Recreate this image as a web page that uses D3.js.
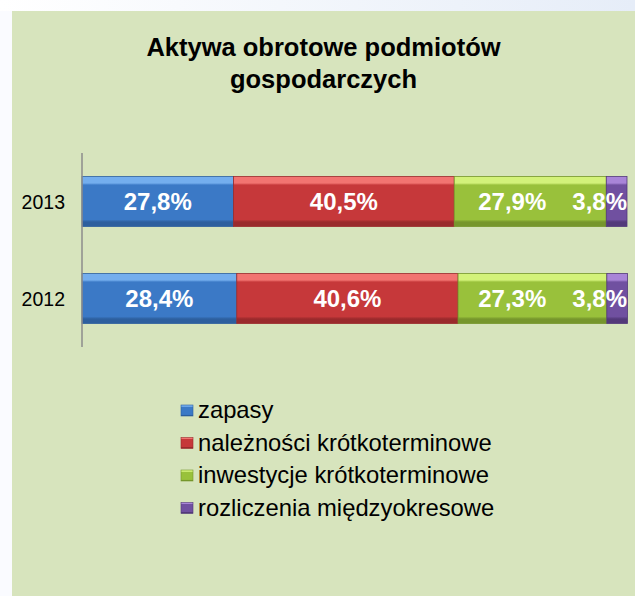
<!DOCTYPE html>
<html>
<head>
<meta charset="utf-8">
<script src="https://cdn.jsdelivr.net/npm/d3@7"></script>
<style>
  body { margin: 0; padding: 0; background: #ffffff; }
  svg { display: block; font-family: "Liberation Sans", Arial, sans-serif; }
</style>
</head>
<body>
<svg id="chart"></svg>
<script>
// chart data
var years = ["2013", "2012"];
var seriesNames = ["zapasy", "należności krótkoterminowe", "inwestycje krótkoterminowe", "rozliczenia międzyokresowe"];
var zapasy = [27.8, 28.4];
var naleznosci = [40.5, 40.6];
var inwestycje = [27.9, 27.3];
var rozliczenia = [3.8, 3.8];
var seriesValues = [zapasy, naleznosci, inwestycje, rozliczenia];
var titleLines = ["Aktywa obrotowe podmiotów", "gospodarczych"];

// colours: [highlight, base, dark]
var colors = [
  ["#74aeee", "#3b79c6", "#2d5f9e"],
  ["#f27471", "#c6383a", "#9a2a2c"],
  ["#d3f27a", "#99c13b", "#76962c"],
  ["#a985d8", "#7050a0", "#53397a"]
];

var W = 635, H = 596;
var svg = d3.select("#chart").attr("width", W).attr("height", H);

// page background behind the panel
var defs = svg.append("defs");
var bgGrad = defs.append("linearGradient").attr("id", "bgGrad")
  .attr("x1", "0%").attr("x2", "100%").attr("y1", "0%").attr("y2", "0%");
bgGrad.append("stop").attr("offset", "0%").attr("stop-color", "#ffffff");
bgGrad.append("stop").attr("offset", "100%").attr("stop-color", "#e6edf8");
svg.append("rect").attr("width", W).attr("height", 11).attr("fill", "url(#bgGrad)");
svg.append("rect").attr("y", 11).attr("width", 12).attr("height", H - 11).attr("fill", "#fafbff");

// chart panel
svg.append("rect")
  .attr("x", 12).attr("y", 11)
  .attr("width", W - 12).attr("height", H - 11)
  .attr("fill", "#d7e4bd");

// title
svg.append("text")
  .attr("x", 323.5).attr("y", 56)
  .attr("text-anchor", "middle")
  .style("font-size", "25.5px").style("font-weight", "bold").attr("fill", "#000")
  .selectAll("tspan")
  .data(titleLines)
  .enter()
  .append("tspan")
  .attr("x", 323.5)
  .attr("dy", (d, i) => i === 0 ? 0 : 32)
  .text(d => d);

// gradients for the bevelled bars
colors.forEach((c, i) => {
  var g = defs.append("linearGradient").attr("id", "barGrad" + i)
    .attr("x1", "0%").attr("x2", "0%").attr("y1", "0%").attr("y2", "100%");
  g.append("stop").attr("offset", "0%").attr("stop-color", c[0]);
  g.append("stop").attr("offset", "13%").attr("stop-color", c[0]);
  g.append("stop").attr("offset", "17%").attr("stop-color", c[1]);
  g.append("stop").attr("offset", "86%").attr("stop-color", c[1]);
  g.append("stop").attr("offset", "91%").attr("stop-color", c[2]);
  g.append("stop").attr("offset", "100%").attr("stop-color", c[2]);
});

var plot = {left: 82, right: 627, top: 153, bottom: 347};

var x = d3.scaleLinear()
  .domain([0, 100])
  .range([plot.left, plot.right]);

var y = d3.scaleBand()
  .domain(years)
  .range([plot.top, plot.bottom])
  .paddingInner(0.485)
  .paddingOuter(0.2425);

// stack the series
var rows = years.map((yr, i) => {
  var row = {year: yr};
  seriesNames.forEach((s, j) => { row[s] = seriesValues[j][i]; });
  return row;
});
var stacked = d3.stack().keys(seriesNames)(rows);

var layers = svg.selectAll("g.layer")
  .data(stacked)
  .enter()
  .append("g")
  .attr("class", "layer");

layers.selectAll("rect")
  .data((d, i) => d.map(p => ({p: p, i: i})))
  .enter()
  .append("rect")
  .attr("x", d => x(d.p[0]))
  .attr("y", d => y(d.p.data.year))
  .attr("width", d => x(d.p[1]) - x(d.p[0]))
  .attr("height", y.bandwidth())
  .attr("fill", d => "url(#barGrad" + d.i + ")")
  .attr("stroke", d => colors[d.i][2])
  .attr("stroke-width", 0.8);

// category axis line
svg.append("line")
  .attr("x1", plot.left).attr("x2", plot.left)
  .attr("y1", plot.top).attr("y2", plot.bottom)
  .attr("stroke", "#8c8c8c").attr("stroke-width", 1.5);

// year labels
svg.selectAll("text.year")
  .data(years)
  .enter()
  .append("text")
  .attr("class", "year")
  .attr("x", 65)
  .attr("y", d => y(d) + y.bandwidth() / 2 + 7)
  .attr("text-anchor", "end")
  .style("font-size", "19.5px")
  .attr("fill", "#000")
  .text(d => d);

// data labels
var labels = layers.selectAll("text")
  .data((d, i) => d.map(p => ({p: p, i: i})))
  .enter()
  .append("text")
  .attr("y", d => y(d.p.data.year) + y.bandwidth() / 2 + 8.5)
  .attr("text-anchor", "middle")
  .style("font-size", "24px").style("font-weight", "bold")
  .attr("fill", "#fff")
  .text(d => d3.format(".1f")(d.p[1] - d.p[0]).replace(".", ",") + "%")
  .each(function (d) {
    d.w = this.getComputedTextLength();
    d.cx = (x(d.p[0]) + x(d.p[1])) / 2;
  });

// keep labels inside the plot and push them left when they collide (like Excel does)
var labelGap = 26;
years.forEach(yr => {
  var row = labels.filter(d => d.p.data.year === yr).data()
    .sort((a, b) => b.i - a.i);
  var limit = plot.right;
  row.forEach(d => {
    d.cx = Math.min(d.cx, limit - d.w / 2);
    limit = d.cx - d.w / 2 - labelGap;
  });
});
labels.attr("x", d => d.cx);

// legend
var legend = svg.selectAll("g.legend")
  .data(seriesNames)
  .enter()
  .append("g")
  .attr("class", "legend")
  .attr("transform", (d, i) => "translate(181," + (410 + i * 32.5) + ")");

legend.append("rect")
  .attr("x", 0).attr("y", -5)
  .attr("width", 12).attr("height", 11)
  .attr("fill", (d, i) => "url(#barGrad" + i + ")")
  .attr("stroke", (d, i) => colors[i][2])
  .attr("stroke-width", 0.6);

legend.append("text")
  .attr("x", 17).attr("y", 8)
  .style("font-size", "23.8px")
  .attr("fill", "#000")
  .text(d => d);
</script>
</body>
</html>
